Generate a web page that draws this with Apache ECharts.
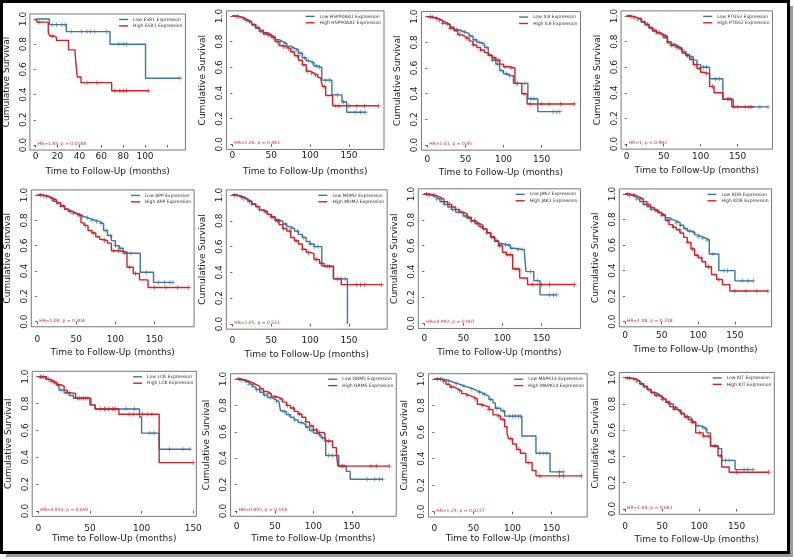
<!DOCTYPE html>
<html><head><meta charset="utf-8">
<script src="https://cdn.jsdelivr.net/npm/echarts@6/dist/echarts.min.js"></script>
<style>html,body{margin:0;padding:0;background:#fff}#c{width:794px;height:560px}</style>
</head><body><div id="c"></div>
<script>
// ---------- DATA ----------
const genes = ['ESR1','HSP90AA1','IL8','PTGS2','APP','MDM2','JAK2','KDR','LCK','GRM5','MAPK14','KIT'];
const hrLabels = ['HR=1.85, p = 0.0188','HR=1.06, p = 0.443','HR=1.01, p = 0.85','HR=1, p = 0.982',
  'HR=1.08, p = 0.304','HR=1.05, p = 0.531','HR=0.992, p = 0.907','HR=1.08, p = 0.318',
  'HR=0.933, p = 0.692','HR=0.892, p = 0.118','HR=1.29, p = 0.0227','HR=1.04, p = 0.681'];
const yTicks = [0, 0.2, 0.4, 0.6, 0.8, 1.0];
const xTicksESR1 = [0, 20, 40, 60, 80, 100, 120];
const xLabelsESR1 = [0, 20, 40, 60, 80, 100];
const xTicksStd = [0, 50, 100, 150];

// survival step points [month, survival]; censor times in months
const esr1Low = [[0,1],[12.5,0.955],[28,0.90],[68,0.80],[100.5,0.53],[132,0.53]];
const esr1LowC = [15,19,24,27,33,42,47,50,54,65,76,80,83,132];
const esr1High = [[0,1],[1.5,0.975],[11.5,0.89],[13,0.865],[17,0.855],[19,0.83],[30,0.755],[36,0.735],[37,0.63],[38,0.54],[41.5,0.495],[69.5,0.43],[103,0.43]];
const esr1HighC = [3,15,47,56,72.5,77,80,83,103];

const hspLow = [[0,1],[5,0.995],[10,0.98],[15,0.965],[20,0.95],[25,0.93],[30,0.905],[35,0.88],[40,0.86],[45,0.85],[50,0.835],[55,0.815],[60,0.80],[65,0.785],[70,0.765],[75,0.75],[80,0.735],[85,0.71],[90,0.675],[95,0.65],[100,0.635],[105,0.61],[110,0.60],[115,0.50],[128,0.385],[141,0.33],[147,0.25],[171,0.25]];
const hspLowC = [8,18,28,36,42,47,53,62,68,77,83,88,93,98,103,108,112,120,125,135,143,158,165,171];
const hspHigh = [[0,1],[5,0.995],[10,0.985],[15,0.97],[20,0.955],[25,0.935],[30,0.91],[35,0.89],[40,0.87],[45,0.855],[50,0.835],[55,0.80],[60,0.77],[65,0.76],[70,0.745],[75,0.72],[80,0.69],[85,0.655],[90,0.62],[95,0.57],[100,0.555],[105,0.54],[110,0.52],[114,0.50],[116,0.45],[120,0.38],[129,0.30],[188,0.30]];
const hspHighC = [6,14,22,33,40,46,52,58,66,72,78,84,92,97,102,107,118,133,137,150,160,170,188];

const il8Low = [[0,1],[5,0.995],[10,0.985],[15,0.97],[20,0.955],[25,0.94],[30,0.92],[35,0.90],[40,0.89],[45,0.88],[50,0.87],[55,0.85],[60,0.82],[65,0.80],[70,0.79],[75,0.76],[80,0.70],[85,0.66],[90,0.63],[95,0.58],[100,0.555],[105,0.54],[110,0.54],[113,0.48],[132,0.36],[145,0.26],[174,0.26]];
const il8LowC = [7,16,26,38,44,49,56,63,68,72,78,86,92,98,104,108,118,128,136,140,165,170,174];
const il8High = [[0,1],[5,0.99],[10,0.985],[15,0.97],[20,0.95],[25,0.935],[30,0.91],[35,0.89],[40,0.86],[45,0.845],[50,0.83],[55,0.81],[60,0.78],[65,0.76],[70,0.74],[75,0.72],[80,0.70],[85,0.68],[90,0.66],[95,0.63],[100,0.61],[108,0.60],[115,0.48],[124,0.40],[131,0.32],[193,0.32]];
const il8HighC = [4,12,20,30,42,52,60,70,82,88,94,102,110,118,127,135,150,160,175,193];

const ptgs2Low = [[0,1],[5,0.995],[10,0.985],[15,0.97],[20,0.95],[25,0.93],[30,0.905],[35,0.88],[40,0.865],[45,0.85],[50,0.83],[55,0.80],[60,0.78],[65,0.765],[70,0.75],[75,0.72],[80,0.70],[85,0.68],[90,0.655],[95,0.62],[100,0.60],[112,0.51],[130,0.35],[144,0.29],[191,0.29]];
const ptgs2LowC = [6,15,24,33,41,48,56,63,70,78,88,95,104,108,120,125,136,140,150,165,180,191];
const ptgs2High = [[0,1],[5,0.995],[10,0.985],[15,0.975],[20,0.955],[25,0.935],[30,0.91],[35,0.89],[40,0.87],[45,0.855],[50,0.84],[55,0.79],[60,0.77],[65,0.755],[70,0.74],[75,0.71],[80,0.69],[85,0.66],[90,0.62],[95,0.59],[100,0.56],[105,0.55],[112,0.45],[118,0.40],[130,0.35],[142,0.29],[172,0.29]];
const ptgs2HighC = [3,10,19,28,37,44,52,60,67,74,82,92,98,108,116,138,145,160,168];

const appLow = [[0,1],[5,0.995],[10,0.985],[15,0.97],[20,0.95],[25,0.93],[30,0.91],[35,0.885],[40,0.87],[45,0.855],[50,0.845],[55,0.83],[60,0.82],[65,0.81],[70,0.80],[75,0.79],[80,0.775],[85,0.72],[90,0.68],[95,0.64],[100,0.60],[105,0.58],[110,0.54],[132,0.39],[149,0.31],[174,0.31]];
const appLowC = [8,18,30,42,52,58,64,70,76,82,88,94,100,106,112,120,140,155,163,170,174];
const appHigh = [[0,1],[5,0.995],[10,0.99],[15,0.975],[20,0.96],[25,0.94],[30,0.915],[35,0.89],[40,0.87],[45,0.855],[50,0.84],[56,0.78],[60,0.76],[65,0.72],[70,0.70],[75,0.67],[80,0.65],[85,0.64],[90,0.62],[95,0.56],[105,0.55],[115,0.43],[123,0.38],[131,0.33],[142,0.27],[194,0.27]];
const appHighC = [4,12,22,33,46,54,62,72,86,98,104,118,126,150,165,180,194];

const mdm2Low = [[0,1],[5,0.995],[10,0.985],[15,0.97],[20,0.95],[25,0.93],[30,0.91],[35,0.885],[40,0.87],[45,0.85],[50,0.83],[55,0.81],[60,0.795],[65,0.775],[70,0.755],[75,0.74],[80,0.72],[85,0.695],[90,0.67],[95,0.64],[100,0.62],[105,0.60],[115,0.45],[130,0.35],[148,0.0]];
const mdm2LowC = [6,15,25,35,44,52,60,68,76,84,92,100,106,110,122,140,145];
const mdm2High = [[0,1],[5,0.99],[10,0.98],[15,0.965],[20,0.95],[25,0.93],[30,0.91],[35,0.885],[40,0.87],[45,0.85],[50,0.83],[55,0.80],[60,0.77],[65,0.74],[70,0.72],[75,0.67],[80,0.645],[85,0.62],[90,0.58],[95,0.555],[100,0.545],[105,0.50],[112,0.47],[118,0.445],[130,0.35],[140,0.305],[192,0.305]];
const mdm2HighC = [3,12,22,32,42,50,58,66,74,82,90,98,108,114,125,135,148,160,165,170,192];

const jak2Low = [[0,1],[5,0.99],[10,0.975],[15,0.96],[20,0.94],[25,0.92],[30,0.90],[35,0.88],[40,0.86],[45,0.85],[50,0.83],[55,0.81],[60,0.79],[65,0.775],[70,0.76],[75,0.73],[80,0.70],[85,0.67],[90,0.64],[95,0.615],[100,0.605],[110,0.58],[115,0.57],[128,0.55],[130,0.40],[140,0.33],[148,0.22],[169,0.22]];
const jak2LowC = [6,16,26,36,44,52,60,68,76,86,92,98,104,108,112,120,125,136,145,160,165,169];
const jak2High = [[0,1],[5,0.995],[10,0.99],[15,0.975],[20,0.96],[25,0.94],[30,0.92],[35,0.90],[40,0.88],[45,0.86],[50,0.845],[55,0.82],[60,0.795],[65,0.77],[70,0.75],[75,0.73],[80,0.70],[85,0.665],[90,0.635],[95,0.60],[100,0.55],[105,0.53],[113,0.42],[122,0.35],[132,0.30],[192,0.30]];
const jak2HighC = [3,12,22,32,40,48,56,64,72,80,88,96,106,110,117,120,138,150,160,192];

const kdrLow = [[0,1],[5,0.99],[10,0.975],[15,0.96],[20,0.94],[25,0.92],[30,0.90],[35,0.88],[40,0.865],[45,0.85],[50,0.835],[55,0.815],[60,0.80],[65,0.79],[70,0.775],[75,0.755],[80,0.73],[85,0.71],[90,0.70],[95,0.68],[100,0.665],[105,0.655],[110,0.64],[115,0.53],[128,0.40],[150,0.32],[175,0.32]];
const kdrLowC = [6,16,26,36,44,52,62,70,76,82,88,94,100,106,112,120,135,140,160,168,175];
const kdrHigh = [[0,1],[5,0.995],[10,0.99],[15,0.975],[20,0.96],[25,0.94],[30,0.915],[35,0.895],[40,0.875],[45,0.855],[50,0.835],[55,0.795],[60,0.76],[65,0.74],[70,0.72],[75,0.695],[80,0.66],[85,0.62],[90,0.57],[95,0.52],[100,0.50],[105,0.47],[110,0.43],[118,0.37],[125,0.33],[133,0.29],[143,0.24],[195,0.24]];
const kdrHighC = [3,12,22,32,42,50,58,66,74,86,92,98,104,114,128,150,165,180,195];

const lckLow = [[0,1],[7,0.98],[12,0.965],[15,0.955],[18,0.935],[20,0.90],[25,0.88],[30,0.86],[34,0.84],[51,0.79],[55,0.76],[98,0.70],[100,0.58],[117,0.46],[147,0.46]];
const lckLowC = [3,13,22,27,38,42,46,48,65,75,85,93,108,112,127,140,147];
const lckHigh = [[0,1],[8,0.98],[12,0.97],[15,0.955],[18,0.94],[22,0.93],[25,0.90],[28,0.88],[32,0.875],[36,0.84],[50,0.79],[55,0.76],[78,0.72],[117,0.36],[150,0.36]];
const lckHighC = [2,5,10,16,20,30,40,44,60,64,68,72,74,88,92,101,106,110,150];

const grm5Low = [[0,1],[5,0.99],[10,0.975],[15,0.96],[20,0.94],[25,0.92],[30,0.90],[35,0.88],[40,0.86],[45,0.845],[50,0.83],[55,0.815],[57,0.76],[60,0.75],[65,0.73],[70,0.71],[75,0.69],[80,0.67],[85,0.655],[90,0.635],[95,0.61],[100,0.59],[105,0.575],[110,0.555],[116,0.42],[133,0.34],[143,0.30],[148,0.24],[190,0.24]];
const grm5LowC = [6,16,26,36,44,52,62,68,76,84,92,98,104,108,112,120,125,138,170,180,186,190];
const grm5High = [[0,1],[5,0.995],[10,0.985],[15,0.975],[20,0.96],[25,0.945],[30,0.925],[35,0.905],[40,0.89],[45,0.87],[50,0.86],[55,0.845],[60,0.825],[65,0.80],[70,0.78],[75,0.755],[80,0.735],[85,0.71],[90,0.675],[95,0.645],[100,0.615],[105,0.595],[112,0.59],[115,0.53],[125,0.48],[130,0.43],[132,0.34],[199,0.34]];
const grm5HighC = [3,12,22,32,42,50,58,66,74,82,90,98,104,108,120,136,140,175,182,199];

const mapk14Low = [[0,1],[10,0.995],[15,0.985],[20,0.975],[25,0.965],[30,0.955],[35,0.945],[40,0.935],[45,0.925],[50,0.91],[55,0.90],[60,0.885],[65,0.87],[70,0.845],[75,0.82],[78,0.78],[85,0.76],[90,0.72],[112,0.57],[130,0.44],[148,0.30],[165,0.30]];
const mapk14LowC = [8,18,28,38,48,58,64,72,80,88,96,100,104,108,110,135,140,144,160,165];
const mapk14High = [[0,1],[5,0.995],[10,0.98],[15,0.96],[20,0.94],[25,0.925],[30,0.91],[35,0.89],[40,0.875],[45,0.865],[50,0.85],[55,0.81],[60,0.80],[65,0.79],[70,0.77],[75,0.73],[80,0.72],[85,0.695],[90,0.64],[93,0.59],[95,0.55],[100,0.51],[105,0.47],[110,0.44],[117,0.37],[125,0.31],[130,0.27],[188,0.27]];
const mapk14HighC = [4,12,22,32,42,52,62,70,82,88,98,108,120,135,160,165,188];

const kitLow = [[0,1],[5,0.995],[10,0.985],[15,0.97],[20,0.95],[25,0.93],[30,0.91],[35,0.89],[40,0.875],[45,0.86],[50,0.84],[55,0.82],[60,0.80],[65,0.775],[70,0.755],[75,0.73],[80,0.705],[85,0.69],[90,0.665],[95,0.635],[100,0.625],[105,0.61],[110,0.58],[115,0.48],[125,0.46],[130,0.37],[148,0.30],[172,0.30]];
const kitLowC = [6,16,26,36,44,52,60,68,76,84,92,98,104,108,120,135,140,160,165,172];
const kitHigh = [[0,1],[5,0.995],[10,0.99],[15,0.975],[20,0.955],[25,0.935],[30,0.91],[35,0.885],[40,0.865],[45,0.85],[50,0.835],[55,0.81],[60,0.78],[65,0.76],[70,0.745],[75,0.725],[80,0.70],[85,0.68],[90,0.66],[95,0.58],[105,0.555],[115,0.48],[125,0.405],[130,0.32],[140,0.28],[193,0.28]];
const kitHighC = [3,12,22,32,42,50,58,66,74,82,90,100,106,112,122,128,150,193];

const lowCurves = [esr1Low,hspLow,il8Low,ptgs2Low,appLow,mdm2Low,jak2Low,kdrLow,lckLow,grm5Low,mapk14Low,kitLow];
const lowCensor = [esr1LowC,hspLowC,il8LowC,ptgs2LowC,appLowC,mdm2LowC,jak2LowC,kdrLowC,lckLowC,grm5LowC,mapk14LowC,kitLowC];
const highCurves = [esr1High,hspHigh,il8High,ptgs2High,appHigh,mdm2High,jak2High,kdrHigh,lckHigh,grm5High,mapk14High,kitHigh];
const highCensor = [esr1HighC,hspHighC,il8HighC,ptgs2HighC,appHighC,mdm2HighC,jak2HighC,kdrHighC,lckHighC,grm5HighC,mapk14HighC,kitHighC];

// ---------- LAYOUT (pixels) ----------
// x0 (px of month 0), px per month, y of S=1, y of S=0, x min, x max, label margin, name gap
const layouts = [
  [35.7,1.093,19,145,-5.3,137,2,17],
  [232.3,0.778,16,144.3,-7.5,195,1.5,18],
  [427.3,0.762,16.7,145,-7.7,201,5,18],
  [626.7,0.74,16,144,-7.6,197,3,17],
  [37.3,0.78,195,321.7,-7.7,201,8,21],
  [232.3,0.778,195,324,-7.7,199,7,21],
  [424.3,0.782,194,323.3,-7.7,199.7,6,20],
  [625,0.733,194,321.7,-7.8,200,4,18],
  [38.3,1.033,376.7,511,-5.9,153,8,18],
  [236.7,0.767,379,511,-8,208,6,18],
  [434.3,0.782,379,511.7,-7.5,195.5,7,17.5],
  [625,0.744,377.7,509,-7.7,200.7,8,21]
];

const BLUE = '#3a76a9', RED = '#d42027';
const FONT = 'DejaVu Sans';
const PLUS = 'path://M4.1,0H5.9V4.1H10V5.9H5.9V10H4.1V5.9H0V4.1H4.1Z';

function survAt(curve, t) {
  let s = curve[0][1];
  for (const p of curve) { if (p[0] <= t) s = p[1]; else break; }
  return s;
}

const grids = [], xAxes = [], yAxes = [], series = [], legends = [], graphics = [];
layouts.forEach((L, i) => {
  const [x0, pxm, y1, y0, lo, hi, lm, ng] = L;
  const unit = y0 - y1;
  const left = x0 + lo * pxm, width = (hi - lo) * pxm;
  const top = y1 - 0.04 * unit, height = 1.08 * unit;
  grids.push({left, top, width, height, show: true, borderColor: '#555', borderWidth: 0.8, backgroundColor: '#fff'});
  const ticks = i === 0 ? xTicksESR1 : xTicksStd;
  const labs = i === 0 ? xLabelsESR1 : xTicksStd;
  xAxes.push({
    type: 'value', gridIndex: i, min: lo, max: hi,
    name: 'Time to Follow-Up (months)', nameLocation: 'middle', nameGap: ng,
    nameTextStyle: {fontFamily: FONT, fontSize: 9, color: '#222'},
    axisLine: {show: false}, splitLine: {show: false},
    axisTick: {show: true, length: 2.5, customValues: ticks, lineStyle: {color: '#333', width: 0.8}},
    axisLabel: {customValues: labs, margin: lm, fontFamily: FONT, fontSize: 9, color: '#222'}
  });
  yAxes.push({
    type: 'value', gridIndex: i, min: -0.04, max: 1.04,
    name: 'Cumulative Survival', nameLocation: 'middle', nameGap: 19, nameRotate: 90,
    nameTextStyle: {fontFamily: FONT, fontSize: 9, color: '#222'},
    axisLine: {show: false}, splitLine: {show: false},
    axisTick: {show: true, length: 2, customValues: yTicks, lineStyle: {color: '#333', width: 0.8}},
    axisLabel: {customValues: yTicks, rotate: 90, margin: 2, fontFamily: FONT, fontSize: 9, color: '#222',
      formatter: v => v.toFixed(1)}
  });
  const lowName = 'Low ' + genes[i] + ' Expression';
  const highName = 'High ' + genes[i] + ' Expression';
  series.push({type: 'line', name: lowName, xAxisIndex: i, yAxisIndex: i, data: lowCurves[i], step: 'end',
    showSymbol: false, lineStyle: {color: BLUE, width: 1.4}, itemStyle: {color: BLUE}, z: 2, silent: true});
  series.push({type: 'scatter', xAxisIndex: i, yAxisIndex: i, symbol: PLUS, symbolSize: 4.5,
    data: lowCensor[i].map(t => [t, survAt(lowCurves[i], t)]), itemStyle: {color: BLUE}, z: 3, silent: true});
  series.push({type: 'line', name: highName, xAxisIndex: i, yAxisIndex: i, data: highCurves[i], step: 'end',
    showSymbol: false, lineStyle: {color: RED, width: 1.4}, itemStyle: {color: RED}, z: 4, silent: true});
  series.push({type: 'scatter', xAxisIndex: i, yAxisIndex: i, symbol: PLUS, symbolSize: 4.5,
    data: highCensor[i].map(t => [t, survAt(highCurves[i], t)]), itemStyle: {color: RED}, z: 5, silent: true});
  legends.push({
    data: [lowName, highName], orient: 'vertical', right: 794 - (left + width - 3), top: top + 3,
    icon: 'rect', itemWidth: 9, itemHeight: 1.4, itemGap: 1.4, padding: 0, selectedMode: false,
    textStyle: {fontFamily: FONT, fontSize: 4.5, color: '#333', lineHeight: 4.5}
  });
  graphics.push({type: 'text', x: x0 + 2, y: y0 - 1, silent: true,
    style: {text: hrLabels[i], fill: '#c0282d', fontFamily: FONT, fontSize: 4.5, textVerticalAlign: 'middle'}});
});

// frame with shadow
graphics.push({type: 'rect', shape: {x: 6, y: 553, width: 786, height: 4}, style: {fill: '#9a9a9a'}, silent: true});
graphics.push({type: 'rect', shape: {x: 789, y: 6, width: 4, height: 551}, style: {fill: '#9a9a9a'}, silent: true});
graphics.push({type: 'rect', shape: {x: 1.5, y: 1.5, width: 787, height: 551}, style: {fill: 'none', stroke: '#000', lineWidth: 3}, silent: true});

const chart = echarts.init(document.getElementById('c'), null, {renderer: 'canvas'});
chart.setOption({
  animation: false, backgroundColor: '#fff',
  grid: grids, xAxis: xAxes, yAxis: yAxes, series, legend: legends, graphic: graphics
});
</script></body></html>
